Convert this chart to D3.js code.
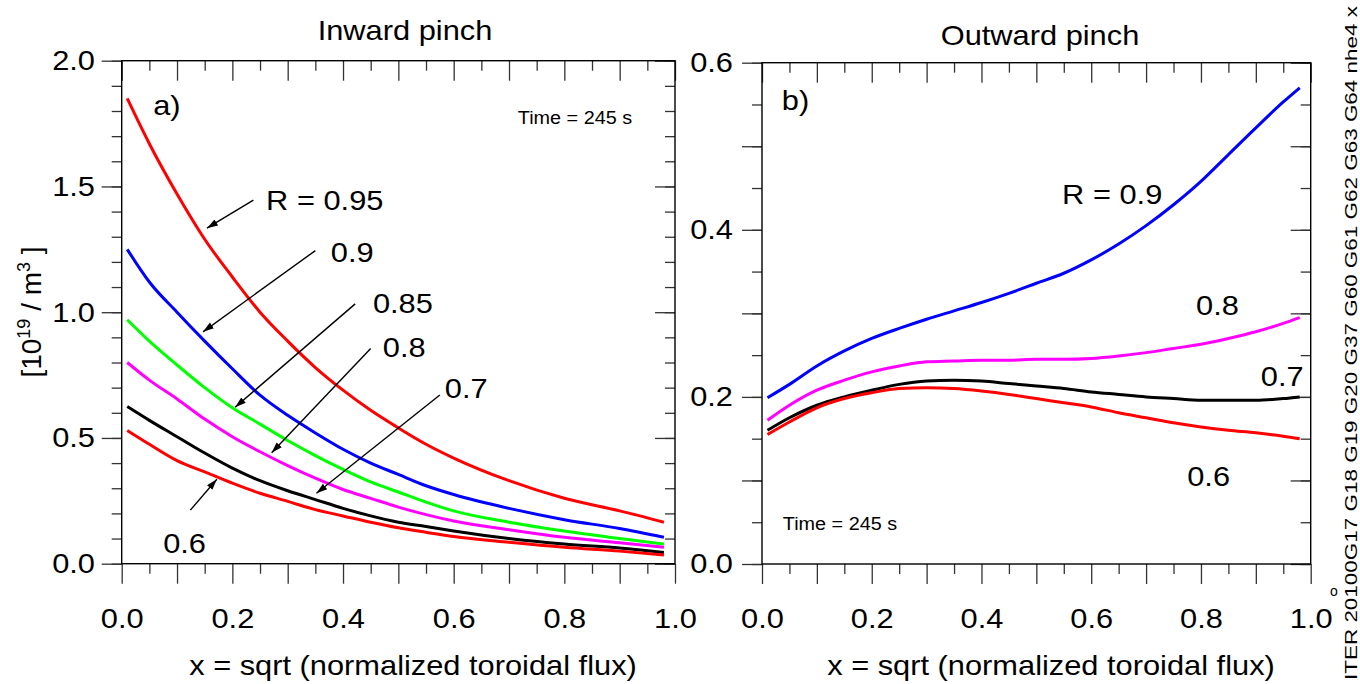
<!DOCTYPE html>
<html>
<head>
<meta charset="utf-8">
<style>
  body { margin: 0; background: #fff; }
  svg text { font-family: "Liberation Sans", Arial, Helvetica, sans-serif; fill: #000; }
</style>
<script src="https://d3js.org/d3.v7.min.js"></script>
</head>
<body>
<svg width="1360" height="684"></svg>
<script>

// ---- data ----
var xIn = [0.01, 0.05, 0.1, 0.15, 0.2, 0.25, 0.3, 0.35, 0.4, 0.45, 0.5, 0.55, 0.6, 0.7, 0.8, 0.9, 0.98];
var inR95 = [1.85, 1.67, 1.47, 1.29, 1.14, 1.0, 0.885, 0.78, 0.69, 0.61, 0.54, 0.475, 0.42, 0.33, 0.26, 0.21, 0.165];
var inR90 = [1.25, 1.12, 1.0, 0.885, 0.775, 0.67, 0.59, 0.52, 0.455, 0.40, 0.355, 0.31, 0.275, 0.22, 0.175, 0.14, 0.105];
var inR85 = [0.97, 0.885, 0.79, 0.70, 0.62, 0.555, 0.49, 0.43, 0.375, 0.325, 0.285, 0.245, 0.21, 0.165, 0.13, 0.10, 0.078];
var inR80 = [0.80, 0.73, 0.655, 0.575, 0.505, 0.445, 0.39, 0.34, 0.295, 0.26, 0.225, 0.195, 0.17, 0.135, 0.105, 0.083, 0.065];
var inR70 = [0.625, 0.57, 0.505, 0.44, 0.38, 0.33, 0.29, 0.255, 0.22, 0.19, 0.165, 0.148, 0.13, 0.10, 0.078, 0.062, 0.045];
var inR60 = [0.53, 0.475, 0.41, 0.365, 0.32, 0.28, 0.248, 0.215, 0.19, 0.165, 0.143, 0.125, 0.108, 0.085, 0.065, 0.05, 0.035];

var xOut = [0.01, 0.05, 0.1, 0.15, 0.2, 0.25, 0.3, 0.35, 0.4, 0.45, 0.5, 0.55, 0.6, 0.65, 0.7, 0.75, 0.8, 0.85, 0.9, 0.95, 0.98];
var outR90 = [0.199, 0.215, 0.237, 0.255, 0.27, 0.282, 0.293, 0.303, 0.313, 0.324, 0.336, 0.348, 0.364, 0.383, 0.405, 0.43, 0.458, 0.49, 0.522, 0.553, 0.57];
var outR80 = [0.172, 0.19, 0.208, 0.22, 0.23, 0.237, 0.242, 0.243, 0.244, 0.244, 0.245, 0.245, 0.246, 0.249, 0.253, 0.258, 0.263, 0.27, 0.278, 0.288, 0.295];
var outR70 = [0.16, 0.175, 0.19, 0.2, 0.208, 0.215, 0.219, 0.22, 0.219, 0.216, 0.213, 0.21, 0.206, 0.203, 0.2, 0.198, 0.196, 0.196, 0.196, 0.198, 0.2];
var outR60 = [0.155, 0.17, 0.187, 0.198, 0.205, 0.21, 0.211, 0.21, 0.207, 0.203, 0.198, 0.193, 0.188, 0.181, 0.175, 0.169, 0.164, 0.16, 0.157, 0.153, 0.15];

var inSeries = [
  {vals: inR95, color: "#ff0000"},
  {vals: inR90, color: "#0000ff"},
  {vals: inR85, color: "#00ff00"},
  {vals: inR80, color: "#ff00ff"},
  {vals: inR70, color: "#000000"},
  {vals: inR60, color: "#ff0000"}
];
var outSeries = [
  {vals: outR90, color: "#0000ff"},
  {vals: outR80, color: "#ff00ff"},
  {vals: outR70, color: "#000000"},
  {vals: outR60, color: "#ff0000"}
];

// labels and arrows, in data units
var inLabels = [
  {t: "R = 0.95", x: 0.261, y: 1.406},
  {t: "0.9", x: 0.378, y: 1.201},
  {t: "0.85", x: 0.454, y: 0.996},
  {t: "0.8", x: 0.472, y: 0.822},
  {t: "0.7", x: 0.584, y: 0.66},
  {t: "0.6", x: 0.075, y: 0.043}
];
var inArrows = [
  [0.238, 1.446, 0.154, 1.334],
  [0.350, 1.245, 0.147, 0.922],
  [0.422, 1.033, 0.205, 0.622],
  [0.450, 0.856, 0.271, 0.441],
  [0.575, 0.671, 0.352, 0.280],
  [0.124, 0.213, 0.172, 0.336]
];
var outLabels = [
  {t: "R = 0.9", x: 0.547, y: 0.431},
  {t: "0.8", x: 0.791, y: 0.298},
  {t: "0.7", x: 0.909, y: 0.213},
  {t: "0.6", x: 0.775, y: 0.093}
];

var svg = d3.select("svg");

var xL = d3.scaleLinear().domain([0, 1]).range([121.7, 675]);
var yL = d3.scaleLinear().domain([0, 2]).range([563.7, 60.7]);
var xR = d3.scaleLinear().domain([0, 1]).range([762, 1310.7]);
var yR = d3.scaleLinear().domain([0, 0.6]).range([564, 62.7]);

var STRETCH = 1.1;
function stretch(sel) {
  sel.each(function() {
    var w = this.getComputedTextLength();
    d3.select(this).attr("textLength", w * STRETCH).attr("lengthAdjust", "spacingAndGlyphs");
  });
}

function steps(a, b, n) { return d3.range(0, n + 1).map(function(i) { return a + (b - a) * i / n; }); }

function tickSet(axisFn, scale, vals, size, tx, ty) {
  var g = svg.append("g")
    .attr("transform", "translate(" + tx + "," + ty + ")")
    .call(axisFn(scale).tickValues(vals).tickSize(size).tickFormat(""));
  g.select(".domain").remove();
  g.selectAll("line").attr("stroke", "#333").attr("stroke-width", 1.3);
}

function labelSet(axisFn, scale, vals, pad, tx, ty, fmt) {
  var g = svg.append("g")
    .attr("transform", "translate(" + tx + "," + ty + ")")
    .call(axisFn(scale).tickValues(vals).tickSize(0).tickPadding(pad).tickFormat(d3.format(fmt)));
  g.select(".domain").remove();
  g.attr("font-size", 28).attr("font-family", null);
  stretch(g.selectAll("text"));
}

function panel(x, y, xMaj, xMin, yMaj, yMin, yLab, yPad, yFmt) {
  var x0 = x.range()[0], x1 = x.range()[1];
  var y0 = y.range()[0], y1 = y.range()[1];
  tickSet(d3.axisBottom, x, xMaj, 20, 0, y0);
  tickSet(d3.axisBottom, x, xMin, 10, 0, y0);
  tickSet(d3.axisTop, x, xMaj, -20, 0, y1);
  tickSet(d3.axisTop, x, xMin, -10, 0, y1);
  tickSet(d3.axisLeft, y, yMaj, 20, x0, 0);
  tickSet(d3.axisLeft, y, yMin, 10, x0, 0);
  tickSet(d3.axisRight, y, yMaj, -20, x1, 0);
  tickSet(d3.axisRight, y, yMin, -10, x1, 0);
  svg.append("rect")
    .attr("x", x0).attr("y", y1)
    .attr("width", x1 - x0).attr("height", y0 - y1)
    .attr("fill", "none").attr("stroke", "#000").attr("stroke-width", 1.4);
  labelSet(d3.axisBottom, x, steps(0, 1, 5), 44, 0, y0, ".1f");
  labelSet(d3.axisLeft, y, yLab, yPad, x0, 0, yFmt);
}

var xMaj = steps(0, 1, 10);
var xMin = xMaj.slice(0, 10).map(function(d) { return d + 0.05; });

// left panel
panel(xL, yL, xMaj, xMin, steps(0, 2, 4), steps(0, 2, 20), steps(0, 2, 4), 26.7, ".1f");
// right panel
panel(xR, yR, xMaj, xMin, steps(0, 0.6, 6), steps(0, 0.6, 12), steps(0, 0.6, 3), 29, ".1f");

// curves
function drawLines(series, xs, x, y) {
  series.forEach(function(s) {
    var line = d3.line()
      .x(function(d, i) { return x(xs[i]); })
      .y(function(d) { return y(d); })
      .curve(d3.curveMonotoneX);
    svg.append("path")
      .datum(s.vals)
      .attr("fill", "none")
      .attr("stroke", s.color)
      .attr("stroke-width", 3)
      .attr("stroke-linejoin", "round")
      .attr("d", line);
  });
}
drawLines(inSeries, xIn, xL, yL);
drawLines(outSeries, xOut, xR, yR);

// arrows
svg.append("defs").append("marker")
  .attr("id", "ah")
  .attr("viewBox", "0 0 12 10")
  .attr("refX", 11).attr("refY", 5)
  .attr("markerWidth", 12).attr("markerHeight", 10)
  .attr("markerUnits", "userSpaceOnUse")
  .attr("orient", "auto")
  .append("path")
  .attr("d", "M0,1.5 L11,5 L0,8.5 Z")
  .attr("fill", "#000");

svg.selectAll(".arrow")
  .data(inArrows)
  .enter().append("line")
  .attr("class", "arrow")
  .attr("x1", function(d) { return xL(d[0]); })
  .attr("y1", function(d) { return yL(d[1]); })
  .attr("x2", function(d) { return xL(d[2]); })
  .attr("y2", function(d) { return yL(d[3]); })
  .attr("stroke", "#000")
  .attr("stroke-width", 1.4)
  .attr("marker-end", "url(#ah)");

function addText(x, y, t, size, anchor) {
  var el = svg.append("text")
    .attr("x", x).attr("y", y)
    .attr("font-size", size)
    .attr("text-anchor", anchor || "start")
    .text(t);
  stretch(el);
  return el;
}

inLabels.forEach(function(d) { addText(xL(d.x), yL(d.y), d.t, 28); });
outLabels.forEach(function(d) { addText(xR(d.x), yR(d.y), d.t, 28); });

addText(xL(0.057), yL(1.784), "a)", 28);
addText(xR(0.036), yR(0.543), "b)", 28);
addText(xL(0.716), yL(1.748), "Time = 245 s", 18);
addText(xR(0.038), yR(0.041), "Time = 245 s", 18);

// titles
addText(405, 40, "Inward pinch", 28, "middle");
addText(1040, 45, "Outward pinch", 28, "middle");
addText(413, 675, "x = sqrt (normalized toroidal flux)", 28, "middle");
addText(1051, 675, "x = sqrt (normalized toroidal flux)", 28, "middle");

// y-axis title
var yt = svg.append("text")
  .attr("transform", "translate(41,312) rotate(-90)")
  .attr("text-anchor", "middle")
  .attr("font-size", 28);
yt.append("tspan").text("[10");
yt.append("tspan").attr("font-size", 18).attr("dy", -11).text("19");
yt.append("tspan").attr("dy", 11).text(" / m");
yt.append("tspan").attr("font-size", 18).attr("dy", -11).text("3");
yt.append("tspan").attr("dy", 11).text(" ]");

// side caption
svg.append("text")
  .attr("transform", "translate(1357,680) rotate(-90)")
  .attr("font-size", 17)
  .attr("textLength", 674)
  .attr("lengthAdjust", "spacingAndGlyphs")
  .text("ITER  20100G17  G18  G19  G20  G37  G60  G61  G62  G63  G64  nhe4  x");
svg.append("text")
  .attr("x", 1330).attr("y", 596)
  .attr("font-size", 14)
  .text("o");

</script>
</body>
</html>
